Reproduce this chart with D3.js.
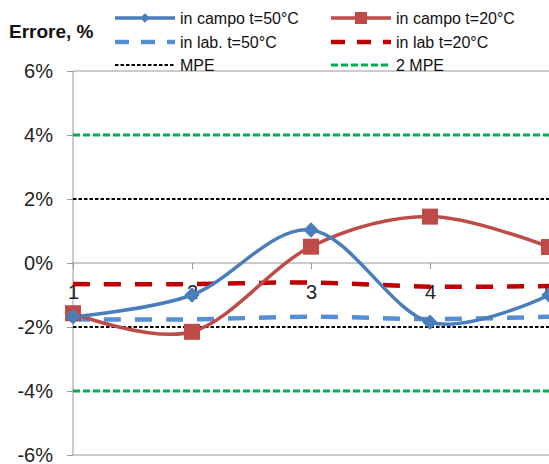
<!DOCTYPE html>
<html><head><meta charset="utf-8">
<script src="https://cdn.jsdelivr.net/npm/d3@7"></script>
<style>body{margin:0;background:#fff}svg{display:block}text{font-family:"Liberation Sans",Arial,sans-serif}</style>
</head><body>
<svg id="c" width="549" height="464"></svg>
<script>
const categories = [1, 2, 3, 4, 5];
const campo50 = [-1.68, -1.0, 1.03, -1.85, -1.0];
const campo20 = [-1.57, -2.15, 0.51, 1.45, 0.5];
const lab50 = [-1.76, -1.76, -1.68, -1.75, -1.68];
const lab20 = [-0.66, -0.66, -0.61, -0.74, -0.72];
const mpe = [2, -2];
const mpe2 = [4, -4];
const yTicks = [6, 4, 2, 0, -2, -4, -6];

const svg = d3.select("#c");
const x = d3.scaleLinear().domain([1, 5]).range([73, 549]);
const y = d3.scaleLinear().domain([-6, 6]).range([455, 71]);
const blue = "#4A7EBB", red = "#BE4B48";

// y axis
const yAxis = d3.axisLeft(y).tickValues(yTicks).tickSize(6).tickFormat(d => d + "%");
const ga = svg.append("g").attr("transform", "translate(73,0)").call(yAxis);
ga.select(".domain").attr("stroke", "#999").attr("d", "M0,71V455");
ga.selectAll(".tick line").attr("stroke", "#999");
ga.selectAll(".tick text").attr("x", -20).attr("font-size", 20).attr("fill", "#222").style("font-family", "Liberation Sans, Arial");

// frame lines top/bottom
svg.append("line").attr("x1", 73).attr("x2", 549).attr("y1", y(6)).attr("y2", y(6)).attr("stroke", "#999");
svg.append("line").attr("x1", 73).attr("x2", 549).attr("y1", y(-6)).attr("y2", y(-6)).attr("stroke", "#999");

// x axis at 0
const xAxis = d3.axisBottom(x).tickValues(categories).tickSize(6).tickFormat(d3.format("d"));
const gx = svg.append("g").attr("transform", `translate(0,${y(0)})`).call(xAxis);
gx.select(".domain").attr("stroke", "#999").attr("d", "M73,0H549");
gx.selectAll(".tick line").attr("stroke", "#999");
gx.selectAll(".tick text").attr("y", 22).attr("font-size", 20).attr("fill", "#222");

// reference lines
function hline(v, color, dash, w) {
  svg.append("line").attr("x1", 73).attr("x2", 549).attr("y1", y(v)).attr("y2", y(v))
    .attr("stroke", color).attr("stroke-width", w).attr("stroke-dasharray", dash);
}
mpe2.forEach(v => hline(v, "#00B050", "7,3", 3));
mpe.forEach(v => hline(v, "#000", "3.5,2", 2));

const line = d3.line().x((d, i) => x(categories[i])).y(d => y(d)).curve(d3.curveCatmullRom.alpha(0));

svg.append("path").attr("d", line(lab20)).attr("fill", "none").attr("stroke", "#C00000").attr("stroke-width", 4.5).attr("stroke-dasharray", "17,14");
svg.append("path").attr("d", line(lab50)).attr("fill", "none").attr("stroke", "#558ED5").attr("stroke-width", 4.5).attr("stroke-dasharray", "17,14");

svg.append("path").attr("d", line(campo20)).attr("fill", "none").attr("stroke", red).attr("stroke-width", 3.5);
svg.append("path").attr("d", line(campo50)).attr("fill", "none").attr("stroke", blue).attr("stroke-width", 3.5);

svg.selectAll(".sq").data(campo20).enter().append("rect").attr("class", "sq")
  .attr("x", (d, i) => x(categories[i]) - 8).attr("y", d => y(d) - 8).attr("width", 16).attr("height", 16).attr("fill", red);
svg.selectAll(".dm").data(campo50).enter().append("path").attr("class", "dm")
  .attr("d", d3.symbol().type(d3.symbolDiamond2).size(150)())
  .attr("transform", (d, i) => `translate(${x(categories[i])},${y(d)})`).attr("fill", blue);

// title
svg.append("text").attr("x", 9).attr("y", 38).attr("font-size", 19).attr("font-weight", "bold").attr("fill", "#111").text("Errore, %");

// legend
const legend = [
  {label: "in campo t=50°C", color: blue, dash: null, w: 3.5, marker: "dm", lx: 115, ly: 18},
  {label: "in campo t=20°C", color: red, dash: null, w: 3.5, marker: "sq", lx: 331, ly: 18},
  {label: "in lab. t=50°C", color: "#558ED5", dash: "14,12", w: 4.5, lx: 115, ly: 42},
  {label: "in lab t=20°C", color: "#C00000", dash: "14,12", w: 4.5, lx: 331, ly: 42},
  {label: "MPE", color: "#000", dash: "3.5,2", w: 2, lx: 115, ly: 65},
  {label: "2 MPE", color: "#00B050", dash: "7,3", w: 3, lx: 331, ly: 65}
];
legend.forEach(l => {
  svg.append("line").attr("x1", l.lx).attr("x2", l.lx + 60).attr("y1", l.ly).attr("y2", l.ly)
    .attr("stroke", l.color).attr("stroke-width", l.w).attr("stroke-dasharray", l.dash);
  if (l.marker === "dm") svg.append("path").attr("d", d3.symbol().type(d3.symbolDiamond2).size(60)()).attr("transform", `translate(${l.lx + 30},${l.ly})`).attr("fill", l.color);
  if (l.marker === "sq") svg.append("rect").attr("x", l.lx + 24).attr("y", l.ly - 6).attr("width", 12).attr("height", 12).attr("fill", l.color);
  svg.append("text").attr("x", l.lx + 65).attr("y", l.ly + 6).attr("font-size", 16).attr("fill", "#111").text(l.label);
});
</script>
</body></html>
